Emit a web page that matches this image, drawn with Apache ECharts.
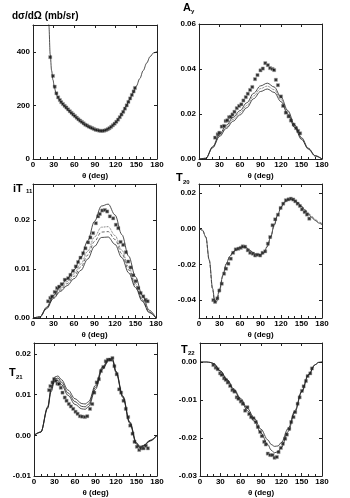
<!DOCTYPE html>
<html>
<head>
<meta charset="utf-8">
<script src="https://cdn.jsdelivr.net/npm/echarts@6/dist/echarts.min.js"></script>
<style>
  html, body { margin: 0; padding: 0; background: #fff; }
  #chart { width: 350px; height: 498px; }
</style>
</head>
<body>
<div id="chart"></div>
<script>
// cross section dσ/dΩ
var xsCurveTheta = [21, 23, 25, 27, 29, 31, 33, 35, 40, 45, 50, 55, 60, 65, 70, 75, 80, 85, 90, 95, 100, 105, 110, 115, 120, 125, 130, 135, 140, 145, 150, 155, 160, 165, 170, 175, 180];
var xsCurve = [640, 500, 390, 330, 295, 268, 250, 236, 214, 198, 184, 171, 159, 148, 137, 128, 120, 114, 109, 106, 105, 107, 114, 124, 137, 154, 174, 197, 221, 246, 272, 300, 330, 358, 382, 396, 401];
var xsTheta = [25, 29, 31.5, 34, 36.5, 39, 41, 43.5, 46, 48.5, 51, 53.5, 56, 58.5, 61, 63.5, 66, 68.5, 71, 73.5, 76, 78.5, 81, 83.5, 86, 88.5, 91, 93.5, 96, 98.5, 101, 103.5, 106, 108.5, 111, 113.5, 116, 118.5, 121, 123.5, 126, 128.5, 131, 133.5, 136, 138.5, 141, 143.5, 146, 148];
var xsVal = [380, 310, 270, 245, 230, 220, 212, 205, 198, 192, 185, 178, 172, 166, 160, 154, 148, 143, 138, 133, 128, 125, 121, 118, 115, 112, 109, 108, 106, 105, 105, 106, 108, 111, 115, 120, 126, 132, 139, 147, 156, 166, 176, 188, 200, 213, 226, 239, 252, 265];

// Ay
var ayCurveTheta = [0, 10, 20, 30, 40, 50, 60, 70, 80, 90, 100, 110, 120, 130, 140, 150, 160, 170, 180];
var ayCurveA = [0, 0.0003, 0.0055, 0.0110, 0.0150, 0.0185, 0.0215, 0.0250, 0.0292, 0.0325, 0.0337, 0.0320, 0.0275, 0.0215, 0.0152, 0.0095, 0.0048, 0.0015, 0];
var ayCurveB = [0, 0.0003, 0.0052, 0.0104, 0.0142, 0.0176, 0.0205, 0.0238, 0.0280, 0.0313, 0.0324, 0.0308, 0.0265, 0.0207, 0.0146, 0.0091, 0.0046, 0.0014, 0];
var ayCurveC = [0, 0.0003, 0.0050, 0.0100, 0.0136, 0.0168, 0.0196, 0.0228, 0.0268, 0.0300, 0.0311, 0.0296, 0.0255, 0.0199, 0.0140, 0.0087, 0.0044, 0.0013, 0];
var ayTheta = [23.5, 27.4, 29.8, 33.3, 36.7, 39, 41.5, 44, 46.5, 49, 51.9, 55.3, 58.7, 62, 65, 68.5, 71.4, 74.8, 78, 82, 85.6, 90, 93.4, 97, 100.8, 104, 107.6, 110, 112.5, 115.5, 120, 123, 127, 131, 134.5, 138.5, 142, 145, 148];
var ayVal = [0.0095, 0.011, 0.0117, 0.0144, 0.0147, 0.0169, 0.0172, 0.0186, 0.0188, 0.0198, 0.021, 0.0226, 0.0236, 0.0243, 0.026, 0.0275, 0.029, 0.0307, 0.032, 0.0355, 0.0373, 0.0394, 0.0402, 0.0426, 0.0417, 0.0404, 0.04, 0.0395, 0.0352, 0.0328, 0.0278, 0.0236, 0.0206, 0.0189, 0.0171, 0.0153, 0.0137, 0.0125, 0.0114];

// iT11
var itCurveTheta = [0, 10, 20, 30, 40, 50, 60, 70, 80, 90, 100, 110, 120, 130, 140, 150, 160, 170, 180];
var itCurveA = [0, 0.0002, 0.0022, 0.0046, 0.0064, 0.0080, 0.0098, 0.0123, 0.0157, 0.0197, 0.0228, 0.0232, 0.0210, 0.0170, 0.0126, 0.0084, 0.0046, 0.0016, 0];
var itCurveB = [0, 0.0002, 0.0021, 0.0044, 0.0060, 0.0074, 0.0090, 0.0110, 0.0136, 0.0165, 0.0185, 0.0186, 0.0168, 0.0138, 0.0104, 0.0070, 0.0038, 0.0013, 0];
var itCurveC = [0, 0.0002, 0.0020, 0.0042, 0.0057, 0.0070, 0.0085, 0.0104, 0.0128, 0.0156, 0.0175, 0.0176, 0.0160, 0.0131, 0.0098, 0.0066, 0.0036, 0.0012, 0];
var itCurveD = [0, 0.0002, 0.0019, 0.0040, 0.0054, 0.0066, 0.0080, 0.0097, 0.0120, 0.0146, 0.0164, 0.0165, 0.0150, 0.0123, 0.0092, 0.0062, 0.0034, 0.0011, 0];
var itTheta = [22, 25.4, 27.9, 31.8, 35.2, 38.2, 42, 46.5, 51.4, 54.8, 58.7, 62.6, 66, 69.5, 73.4, 76.8, 80.7, 84, 88, 92, 95.4, 97.8, 101.3, 105.2, 108.6, 112.5, 117.4, 121.3, 124.8, 128.2, 132, 136, 139.4, 142.9, 146.8, 150.2, 154, 157.5, 161.4, 164.9, 167.8];
var itVal = [0.0034, 0.0041, 0.0044, 0.0053, 0.0061, 0.0064, 0.0069, 0.0078, 0.0081, 0.0088, 0.0096, 0.0105, 0.0114, 0.0123, 0.0132, 0.0142, 0.0154, 0.0164, 0.0173, 0.0193, 0.0207, 0.0212, 0.0219, 0.022, 0.0217, 0.0207, 0.0203, 0.019, 0.0183, 0.0155, 0.0149, 0.0134, 0.0115, 0.0103, 0.0087, 0.0075, 0.0061, 0.0051, 0.0044, 0.0037, 0.0034];

// T20
var t20CurveTheta = [0, 5, 10, 15, 20, 23, 26, 30, 35, 40, 45, 50, 55, 60, 65, 70, 75, 80, 85, 90, 95, 100, 105, 110, 115, 120, 125, 130, 135, 140, 145, 150, 155, 160, 165, 170, 175, 180];
var t20CurveA = [0, -0.0008, -0.0046, -0.0175, -0.0335, -0.0405, -0.0395, -0.0340, -0.0260, -0.0195, -0.0155, -0.0130, -0.0115, -0.0106, -0.0102, -0.0108, -0.0122, -0.0136, -0.0145, -0.0146, -0.0134, -0.0098, -0.0045, 0.0020, 0.0075, 0.0120, 0.0148, 0.0162, 0.0165, 0.0158, 0.0143, 0.0124, 0.0103, 0.0082, 0.0063, 0.0046, 0.0032, 0.0022];
var t20CurveB = [0, -0.0008, -0.0048, -0.0180, -0.0345, -0.0418, -0.0408, -0.0350, -0.0266, -0.0199, -0.0158, -0.0133, -0.0118, -0.0109, -0.0105, -0.0111, -0.0125, -0.0139, -0.0148, -0.0149, -0.0137, -0.0101, -0.0047, 0.0019, 0.0074, 0.0119, 0.0147, 0.0161, 0.0164, 0.0158, 0.0144, 0.0127, 0.0107, 0.0087, 0.0068, 0.0052, 0.0038, 0.0028];
var t20Theta = [21, 23.5, 26.9, 29.8, 33.3, 36.7, 39.6, 43, 46.5, 49.9, 53.8, 57.7, 61.2, 64, 67.5, 71.4, 74.9, 78.8, 82.2, 85.6, 89.5, 93, 96.9, 100.8, 104.2, 107.6, 111.5, 115.5, 119.4, 123.3, 127.2, 131, 134.5, 138, 141, 144.3, 147.7, 150.7, 154.6, 158, 161.4];
var t20Val = [-0.040, -0.041, -0.039, -0.0346, -0.0308, -0.0252, -0.0224, -0.0196, -0.0168, -0.0135, -0.0116, -0.0112, -0.0107, -0.0099, -0.0101, -0.0121, -0.0135, -0.014, -0.015, -0.0146, -0.015, -0.0135, -0.0127, -0.0084, -0.0047, 0.0019, 0.0052, 0.0078, 0.0116, 0.014, 0.0159, 0.0164, 0.0168, 0.0163, 0.0153, 0.014, 0.0127, 0.0108, 0.0093, 0.0079, 0.0056];

// T21
var t21CurveTheta = [0, 10, 20, 25, 30, 35, 40, 50, 60, 70, 75, 80, 90, 100, 110, 115, 120, 130, 140, 150, 155, 160, 170, 180];
var t21CurveA = [0, 0.0008, 0.0070, 0.0115, 0.0143, 0.0146, 0.0137, 0.0111, 0.0090, 0.0078, 0.0077, 0.0083, 0.0123, 0.0168, 0.0189, 0.0187, 0.0158, 0.0097, 0.0034, -0.0018, -0.0027, -0.0025, -0.0012, 0];
var t21CurveB = [0, 0.0008, 0.0068, 0.0111, 0.0138, 0.0141, 0.0131, 0.0104, 0.0083, 0.0071, 0.0070, 0.0077, 0.0118, 0.0165, 0.0187, 0.0185, 0.0156, 0.0095, 0.0032, -0.0020, -0.0029, -0.0026, -0.0013, 0];
var t21CurveC = [0, 0.0008, 0.0066, 0.0107, 0.0133, 0.0135, 0.0125, 0.0098, 0.0076, 0.0065, 0.0064, 0.0071, 0.0113, 0.0162, 0.0185, 0.0183, 0.0154, 0.0093, 0.0030, -0.0022, -0.0031, -0.0027, -0.0014, 0];
var t21Theta = [22, 24, 27, 29.4, 31.9, 34.3, 36.8, 39.2, 41.7, 45, 47.6, 51, 54, 57.4, 60.8, 63.8, 67.2, 70.6, 74.5, 78, 82, 85.3, 88.3, 91.7, 95, 98, 101.5, 105, 108, 111.3, 114.8, 117.7, 121, 124.6, 127.5, 131, 134.4, 137.8, 140.8, 144.2, 147.1, 150.6, 154, 157, 160.4, 163.8, 166.7];
var t21Val = [0.0111, 0.0121, 0.013, 0.0138, 0.0134, 0.0127, 0.0126, 0.0117, 0.0105, 0.0093, 0.0085, 0.0077, 0.0071, 0.0065, 0.0058, 0.0053, 0.0047, 0.0046, 0.0045, 0.0047, 0.0065, 0.0077, 0.0105, 0.013, 0.0138, 0.0158, 0.0168, 0.0182, 0.0186, 0.0186, 0.019, 0.017, 0.015, 0.0113, 0.0105, 0.0085, 0.0065, 0.0045, 0.0024, 0.0004, -0.0016, -0.0028, -0.0036, -0.0032, -0.0032, -0.0026, -0.0032];

// T22
var t22CurveTheta = [0, 10, 15, 20, 30, 40, 50, 60, 70, 80, 90, 100, 105, 110, 115, 120, 130, 140, 150, 160, 170, 175, 180];
var t22CurveA = [0, 0, -0.0001, -0.0004, -0.0023, -0.0046, -0.0071, -0.0096, -0.0122, -0.0148, -0.0177, -0.0205, -0.0217, -0.0222, -0.0221, -0.0212, -0.0175, -0.0128, -0.0077, -0.0033, -0.0007, -0.0001, 0];
var t22CurveB = [0, 0, -0.0001, -0.0004, -0.0024, -0.0048, -0.0074, -0.0100, -0.0128, -0.0156, -0.0187, -0.0217, -0.0232, -0.0239, -0.0236, -0.0225, -0.0183, -0.0132, -0.0079, -0.0034, -0.0007, -0.0001, 0];
var t22Theta = [19.7, 23.2, 26.1, 29.6, 32, 35.5, 38, 40.9, 44.4, 47.8, 50.8, 54.2, 56.7, 60.2, 63.1, 66.6, 70, 72.5, 75.4, 78.9, 82.3, 85.3, 88.8, 91.2, 94.7, 97.1, 100, 103.6, 107, 110, 113.4, 115.9, 119.3, 122.3, 125.7, 128.2, 131.7, 134.6, 138, 140.5, 144, 147, 150.4, 152.9, 156.3, 158.8, 162.7, 165.2];
var t22Val = [-0.0008, -0.0015, -0.0019, -0.003, -0.0034, -0.0043, -0.0047, -0.0054, -0.0063, -0.0074, -0.0078, -0.0093, -0.0097, -0.0104, -0.011, -0.0128, -0.0119, -0.0137, -0.0145, -0.0148, -0.0158, -0.0171, -0.0184, -0.0195, -0.021, -0.0217, -0.0241, -0.0245, -0.0245, -0.0252, -0.025, -0.0237, -0.0226, -0.0215, -0.0202, -0.0191, -0.0176, -0.0158, -0.0145, -0.0132, -0.011, -0.0093, -0.0076, -0.0064, -0.005, -0.0037, -0.003, -0.0017];

// tick labels
var xTicks = [0, 30, 60, 90, 120, 150, 180];
var xsTicks = [0, 200, 400];
var ayTicks = [0, 0.02, 0.04, 0.06];
var itTicks = [0, 0.01, 0.02];
var t20Ticks = [-0.04, -0.02, 0, 0.02];
var t21Ticks = [-0.01, 0, 0.01, 0.02];
var t22Ticks = [-0.03, -0.02, -0.01, 0];

var FONT = "Liberation Sans";
var INK = "#222";

var chart = echarts.init(document.getElementById("chart"));

function zip(xs, ys) {
    return xs.map(function (x, k) { return [x, ys[k]]; });
}

// panel boxes (left, top, width, height) and y ranges
var panels = [
    { box: [33, 25, 124, 134], min: 0, max: 500, ticks: xsTicks, digits: 0 },
    { box: [199, 24, 123, 135], min: 0, max: 0.06, ticks: ayTicks, digits: 2 },
    { box: [33, 184, 123, 134], min: 0, max: 0.0273, ticks: itTicks, digits: 2 },
    { box: [199, 184, 123, 134], min: -0.05, max: 0.025, ticks: t20Ticks, digits: 2 },
    { box: [34, 343, 123, 134], min: -0.01, max: 0.0227, ticks: t21Ticks, digits: 2 },
    { box: [200, 343, 122, 134], min: -0.03, max: 0.005, ticks: t22Ticks, digits: 2 }
];

var grid = [], xAxis = [], yAxis = [];
panels.forEach(function (p, i) {
    grid.push({ left: p.box[0], top: p.box[1], width: p.box[2], height: p.box[3] });
    var line = { show: true, onZero: false, lineStyle: { color: INK, width: 1 } };
    // bottom axis with labels
    xAxis.push({
        type: "value", gridIndex: i, min: 0, max: 180, interval: 30, position: "bottom",
        axisLine: line,
        axisTick: { inside: true, length: 3, customValues: xTicks, lineStyle: { color: INK } },
        minorTick: { show: true, splitNumber: 3, length: 2, lineStyle: { color: INK } },
        axisLabel: { customValues: xTicks, fontSize: 8, fontWeight: "bold", color: "#000", fontFamily: FONT, margin: 2 },
        splitLine: { show: false },
        name: "θ (deg)", nameLocation: "middle", nameGap: 13,
        nameTextStyle: { fontSize: 8, fontWeight: "bold", color: "#000", fontFamily: FONT }
    });
    // top axis: frame only
    xAxis.push({
        type: "value", gridIndex: i, min: 0, max: 180, interval: 30, position: "top",
        axisLine: line,
        axisTick: { inside: true, length: 3, lineStyle: { color: INK } },
        axisLabel: { show: false }, splitLine: { show: false }
    });
    yAxis.push({
        type: "value", gridIndex: i, min: p.min, max: p.max, position: "left",
        axisLine: line,
        axisTick: { inside: true, length: 3, customValues: p.ticks, lineStyle: { color: INK } },
        axisLabel: {
            customValues: p.ticks, fontSize: 8, fontWeight: "bold", color: "#000", fontFamily: FONT, margin: 3,
            formatter: function (v) { return v.toFixed(p.digits); }
        },
        splitLine: { show: false }
    });
    yAxis.push({
        type: "value", gridIndex: i, min: p.min, max: p.max, position: "right",
        axisLine: line,
        axisTick: { inside: true, length: 3, customValues: p.ticks, lineStyle: { color: INK } },
        axisLabel: { show: false }, splitLine: { show: false }
    });
});

function curve(i, xs, ys, type) {
    return {
        type: "line", xAxisIndex: 2 * i, yAxisIndex: 2 * i, data: zip(xs, ys),
        showSymbol: false, smooth: 0.35, smoothMonotone: "x", clip: true,
        lineStyle: { color: type === "solid" ? INK : "#444", width: 0.8, type: type }
    };
}
function points(i, xs, ys) {
    return {
        type: "scatter", xAxisIndex: 2 * i, yAxisIndex: 2 * i, data: zip(xs, ys),
        symbol: "rect", symbolSize: 3.2,
        itemStyle: { color: "#000", borderColor: "#aaa", borderWidth: 0.6 }
    };
}

var series = [
    curve(0, xsCurveTheta, xsCurve, "solid"),
    points(0, xsTheta, xsVal),
    curve(1, ayCurveTheta, ayCurveA, "solid"),
    curve(1, ayCurveTheta, ayCurveB, "dotted"),
    curve(1, ayCurveTheta, ayCurveC, "solid"),
    points(1, ayTheta, ayVal),
    curve(2, itCurveTheta, itCurveA, "solid"),
    curve(2, itCurveTheta, itCurveB, "dotted"),
    curve(2, itCurveTheta, itCurveC, [3, 2]),
    curve(2, itCurveTheta, itCurveD, "solid"),
    points(2, itTheta, itVal),
    curve(3, t20CurveTheta, t20CurveA, "solid"),
    curve(3, t20CurveTheta, t20CurveB, [3, 2]),
    points(3, t20Theta, t20Val),
    curve(4, t21CurveTheta, t21CurveA, "solid"),
    curve(4, t21CurveTheta, t21CurveB, "solid"),
    curve(4, t21CurveTheta, t21CurveC, "solid"),
    points(4, t21Theta, t21Val),
    curve(5, t22CurveTheta, t22CurveA, "solid"),
    curve(5, t22CurveTheta, t22CurveB, "solid"),
    points(5, t22Theta, t22Val)
];

// axis titles: main letter plus a separate small subscript
var bigStyle = { fontSize: 11, fontWeight: "bold", fontFamily: FONT, color: "#000" };
var smallStyle = { fontSize: 6, fontWeight: "bold", fontFamily: FONT, color: "#000" };
var titles = [
    { text: "dσ/dΩ (mb/sr)", left: 12, top: 11, padding: 0,
      textStyle: { fontSize: 10, fontWeight: "bold", fontFamily: FONT, color: "#000" } },
    { text: "A", left: 183, top: 2, padding: 0, textStyle: bigStyle },
    { text: "y", left: 191, top: 8, padding: 0, textStyle: smallStyle },
    { text: "iT", left: 13, top: 183, padding: 0, textStyle: bigStyle },
    { text: "11", left: 26, top: 188, padding: 0, textStyle: smallStyle },
    { text: "T", left: 176, top: 172, padding: 0, textStyle: bigStyle },
    { text: "20", left: 183, top: 179, padding: 0, textStyle: smallStyle },
    { text: "T", left: 9, top: 367, padding: 0, textStyle: bigStyle },
    { text: "21", left: 16, top: 374, padding: 0, textStyle: smallStyle },
    { text: "T", left: 181, top: 344, padding: 0, textStyle: bigStyle },
    { text: "22", left: 188, top: 350, padding: 0, textStyle: smallStyle }
];

chart.setOption({
    animation: false,
    backgroundColor: "#fff",
    title: titles,
    grid: grid,
    xAxis: xAxis,
    yAxis: yAxis,
    series: series
});
</script>
</body>
</html>
